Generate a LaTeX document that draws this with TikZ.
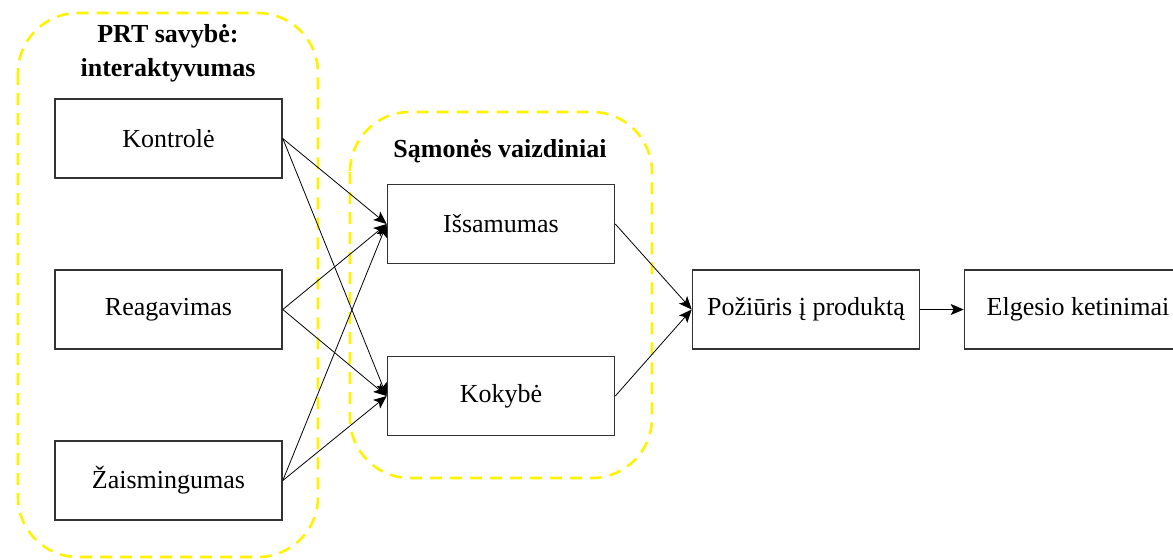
\documentclass[tikz,border=0pt]{standalone}
\usepackage{fontspec}
\setmainfont{Liberation Serif}
\usetikzlibrary{arrows.meta}
\begin{document}
\begin{tikzpicture}[x=0.5pt,y=-0.5pt,
  box/.style={draw=black!80,line width=0.8pt,minimum width=113.5pt,minimum height=39.5pt,inner sep=0pt,
    font=\fontsize{13}{15.6}\selectfont},
  group/.style={draw=yellow,line width=1.3pt,dash pattern=on 6pt off 4pt,rounded corners=30pt},
  title/.style={font=\fontsize{13}{16}\selectfont\bfseries,align=center},
  link/.style={line width=0.4pt,-{Stealth[length=6.5pt,width=5.5pt,inset=1.5pt]}}]
\useasboundingbox (0,0) rectangle (1173,559);
% grouping frames
\draw[group] (18,13) rectangle (318,557);
\draw[group] (350,112) rectangle (652,478);
\node[title] (t1) at (168,53) {PRT savybė:\\[1pt]interaktyvumas};
\node[title] (t2) at (500,151) {Sąmonės vaizdiniai};
% nodes
\node[box] (kon) at (168.5,138.5) {Kontrolė};
\node[box] (rea) at (168.5,309.5) {Reagavimas};
\node[box] (zai) at (168.5,480.5) {Žaismingumas};
\node[box] (iss) at (501,224) {Išsamumas};
\node[box] (kok) at (501,396) {Kokybė};
\node[box] (poz) at (806,309.5) {Požiūris į produktą};
\node[box] (elg) at (1078,309.5) {Elgesio ketinimai};
% connectors
\foreach \s in {kon,rea,zai}{
  \draw[link] (\s.east) -- (iss.west);
  \draw[link] (\s.east) -- (kok.west);
}
\draw[link] (iss.east) -- (poz.west);
\draw[link] (kok.east) -- (poz.west);
\draw[link] (poz.east) -- (elg.west);
\end{tikzpicture}
\end{document}
